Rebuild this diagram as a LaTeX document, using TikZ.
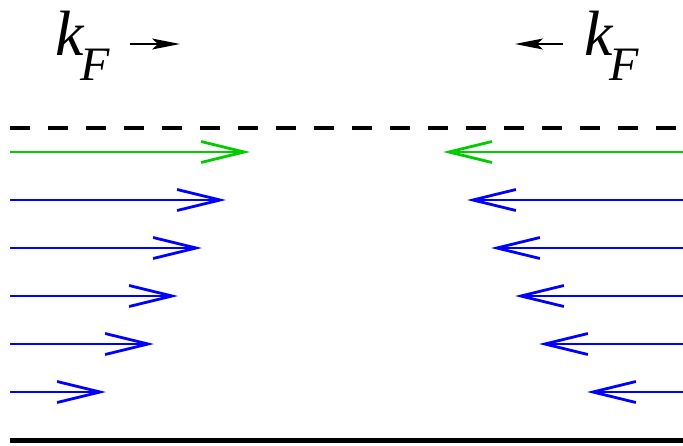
\documentclass[tikz,border=0pt]{standalone}
\usepackage{fontspec}
\setmainfont{Liberation Serif}
\usetikzlibrary{arrows.meta}
\definecolor{fgreen}{RGB}{0,204,0}
\definecolor{fblue}{RGB}{0,0,255}
\tikzset{
  wave/.style={line width=2.2pt, -{Straight Barb[length=43pt,width=21pt,line width=2.8pt]}},
  lbl/.style={inner sep=0pt, anchor=base west, font=\fontsize{64}{64}\selectfont\itshape},
  sub/.style={inner sep=0pt, anchor=base west, font=\fontsize{48}{48}\selectfont\itshape},
  dir/.style={line width=1.2pt, -{Stealth[length=28pt,width=11pt,inset=6pt]}}
}
\begin{document}
\begin{tikzpicture}[x=1pt,y=-1pt]
  \useasboundingbox (0,0) rectangle (683,445);
  % boundaries
  \coordinate (dl) at (10,128);  \coordinate (dr) at (683,128);
  \coordinate (bl) at (10,440);  \coordinate (br) at (683,440);
  \draw[line width=4pt, dash pattern=on 20pt off 18pt] (dl) -- (dr);
  \draw[line width=5pt] (bl) -- (br);
  % incoming waves from the left
  \foreach \y/\t/\c [count=\i] in {152/250/fgreen,200/226/fblue,248/202/fblue,296/178/fblue,344/154/fblue,392/106/fblue}{
    \coordinate (ls\i) at (10,\y);  \coordinate (le\i) at (\t,\y);
    \draw[wave,\c] (ls\i) -- (le\i);
  }
  % incoming waves from the right
  \foreach \y/\t/\c [count=\i] in {152/443/fgreen,200/467/fblue,248/491/fblue,296/515/fblue,344/539/fblue,392/587/fblue}{
    \coordinate (rs\i) at (683,\y);  \coordinate (re\i) at (\t,\y);
    \draw[wave,\c] (rs\i) -- (re\i);
  }
  % momentum labels
  \node[lbl] (kl) at (55,55) {k};
  \node[sub] (Fl) at (80,80) {F};
  \node[lbl] (kr) at (584,55) {k};
  \node[sub] (Fr) at (609,80) {F};
  \coordinate (al) at (130,44); \coordinate (ar) at (180,44);
  \draw[dir] (al) -- (ar);
  \coordinate (bl2) at (563,44); \coordinate (br2) at (515,44);
  \draw[dir] (bl2) -- (br2);
\end{tikzpicture}
\end{document}
